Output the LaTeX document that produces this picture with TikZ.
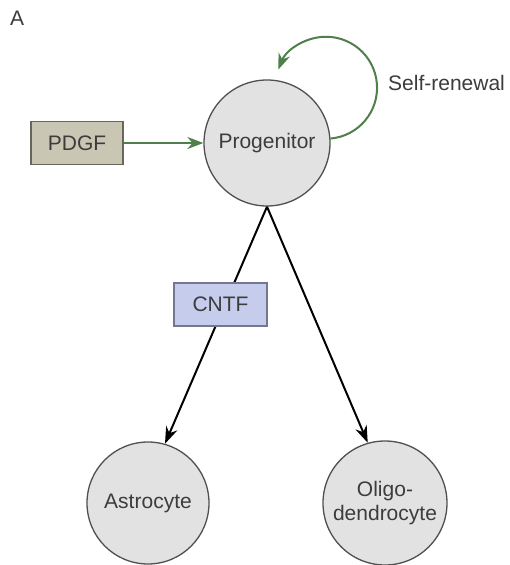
\documentclass[tikz,border=0pt]{standalone}
\usepackage{fontspec}
\setmainfont{Liberation Sans}
\usetikzlibrary{arrows.meta}
\definecolor{txt}{HTML}{3C3C3C}
\definecolor{leaf}{HTML}{4F7F4A}
\definecolor{cellfill}{HTML}{E2E2E2}
\definecolor{cellline}{HTML}{505050}
\definecolor{pdgffill}{HTML}{C9C7B3}
\definecolor{pdgfline}{HTML}{66665C}
\definecolor{cntffill}{HTML}{C6CCEC}
\definecolor{cntfline}{HTML}{737890}
\tikzset{
  cell/.style={circle, draw=cellline, fill=cellfill, line width=1.3pt,
    inner sep=0pt, text=txt, font=\fontsize{21}{24}\selectfont, align=center},
  factor/.style={rectangle, draw, line width=1.3pt, inner sep=0pt,
    text=txt, font=\fontsize{21}{24}\selectfont},
  greenarrow/.style={draw=leaf, line width=2pt,
    -{Stealth[length=16pt, width=12pt, fill=leaf]}},
  fatearrow/.style={draw=black, line width=2pt,
    -{Stealth[length=17pt, width=12pt]}},
  label/.style={text=txt, font=\fontsize{21}{24}\selectfont, inner sep=0pt}
}
\begin{document}
\begin{tikzpicture}[x=1pt, y=1pt]
  \useasboundingbox (0,0) rectangle (510,565);
  \fill[white] (0,0) rectangle (510,565);

  \node[label, anchor=west] (panel) at (10,547) {A};

  \node[cell, minimum size=126pt] (prog) at (267,422) {Progenitor};
  \node[factor, fill=pdgffill, draw=pdgfline, minimum width=92pt, minimum height=43pt]
    (pdgf) at (77,422) {PDGF};
  \node[label, anchor=west] (selfren) at (388,482) {Self-renewal};

  \node[cell, minimum size=122pt] (astro) at (148,62) {Astrocyte};
  \node[cell, minimum size=124pt] (oligo) at (385,62) {Oligo-\\dendrocyte};

  % growth factor input and self-renewal loop
  \draw[greenarrow] (pdgf) -- (prog);
  \draw[greenarrow] (prog.4) arc[start angle=-85, end angle=159, radius=51pt];

  % differentiation into the two glial fates
  \draw[fatearrow] (prog.south) -- (astro.74);
  \draw[fatearrow] (prog.south) -- (oligo.106);

  % CNTF sits on the astrocyte branch
  \node[factor, fill=cntffill, draw=cntfline, minimum width=93pt, minimum height=43pt]
    (cntf) at (220.5,260.5) {CNTF};
\end{tikzpicture}
\end{document}
